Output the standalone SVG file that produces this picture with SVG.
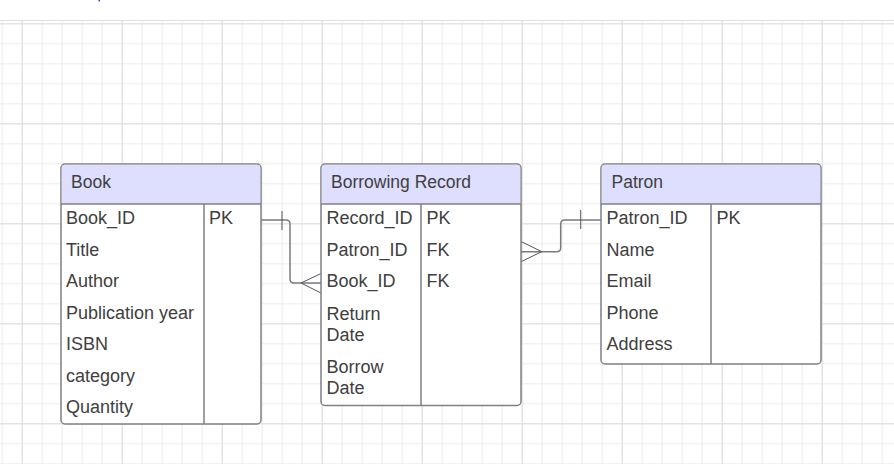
<svg xmlns="http://www.w3.org/2000/svg" width="894" height="464" viewBox="0 0 894 464">
<defs>
<pattern id="minor" x="1.7" y="3.3" width="20" height="20" patternUnits="userSpaceOnUse">
<path d="M0.5 0V20M0 0.5H20" fill="none" stroke="#ececec" stroke-width="1"/>
</pattern>
<pattern id="major" x="21.7" y="23.3" width="100" height="100" patternUnits="userSpaceOnUse">
<path d="M0.5 0V100M0 0.5H100" fill="none" stroke="#dedede" stroke-width="1"/>
</pattern>
</defs>
<style>
.box{fill:#ffffff;stroke:#808085;stroke-width:1.5}
.hdr{fill:#dedeff}
.div{stroke:#808085;stroke-width:1.5;fill:none}
.t{font-family:"Liberation Sans",Arial,sans-serif;font-size:18px;fill:#404040}
.h{font-size:17.5px}
.c{fill:none;stroke:#7a7a80;stroke-width:1.5}
.cf{fill:none;stroke:#55555a;stroke-width:1}
</style>
<rect width="894" height="464" fill="#ffffff"/>
<g id="grid">
<rect x="0" y="20" width="894" height="444" fill="url(#minor)"/>
<rect x="0" y="20" width="894" height="444" fill="url(#major)"/>
<line x1="0" y1="20.5" x2="894" y2="20.5" stroke="#dedede"/>
</g>
<rect x="98.5" y="0" width="1.5" height="1.5" fill="#3344dd"/>

<g id="connectors">
<path class="c" d="M261 220H286Q290 220 290 224V279Q290 283 294 283H321"/>
<path class="cf" d="M282 211V230"/>
<path class="cf" d="M321 273.5L301 283L321 293"/>
<path class="c" d="M521 251.7H556.7Q560.7 251.7 560.7 247.7V224Q560.7 220 564.7 220H601"/>
<path class="cf" d="M580.7 210V229"/>
<path class="cf" d="M521.5 241.7L541.7 251.7L521.5 261.5"/>
</g>

<g id="book">
<rect class="box" x="61" y="164" width="200" height="260" rx="4"/>
<path class="hdr" d="M65 164.75H257Q260.25 164.75 260.25 168V204H61.75V168Q61.75 164.75 65 164.75Z"/>
<path class="div" d="M61 204H261M204 204V424"/>
<text class="t h" x="71" y="188">Book</text>
<text class="t" x="66" y="224">Book_ID</text>
<text class="t" x="209" y="224">PK</text>
<text class="t" x="66" y="255.5">Title</text>
<text class="t" x="66" y="287">Author</text>
<text class="t" x="66" y="318.5">Publication year</text>
<text class="t" x="66" y="350">ISBN</text>
<text class="t" x="66" y="381.5">category</text>
<text class="t" x="66" y="413">Quantity</text>
</g>

<g id="borrowing">
<rect class="box" x="321" y="164" width="200" height="241.5" rx="4"/>
<path class="hdr" d="M325 164.75H517Q520.25 164.75 520.25 168V204H321.75V168Q321.75 164.75 325 164.75Z"/>
<path class="div" d="M321 204H521M421 204V405.5"/>
<text class="t h" x="331" y="188">Borrowing Record</text>
<text class="t" x="326.5" y="224">Record_ID</text>
<text class="t" x="426.5" y="224">PK</text>
<text class="t" x="326.5" y="255.5">Patron_ID</text>
<text class="t" x="426.5" y="255.5">FK</text>
<text class="t" x="326.5" y="287">Book_ID</text>
<text class="t" x="426.5" y="287">FK</text>
<text class="t" x="326.5" y="320">Return</text>
<text class="t" x="326.5" y="341">Date</text>
<text class="t" x="326.5" y="372.5">Borrow</text>
<text class="t" x="326.5" y="394">Date</text>
</g>

<g id="patron">
<rect class="box" x="601" y="164" width="220" height="200" rx="4"/>
<path class="hdr" d="M605 164.75H817Q820.25 164.75 820.25 168V204H601.75V168Q601.75 164.75 605 164.75Z"/>
<path class="div" d="M601 204H821M711 204V364"/>
<text class="t h" x="611.5" y="188">Patron</text>
<text class="t" x="606.5" y="224">Patron_ID</text>
<text class="t" x="716.5" y="224">PK</text>
<text class="t" x="606.5" y="255.5">Name</text>
<text class="t" x="606.5" y="287">Email</text>
<text class="t" x="606.5" y="318.5">Phone</text>
<text class="t" x="606.5" y="350">Address</text>
</g>
</svg>
